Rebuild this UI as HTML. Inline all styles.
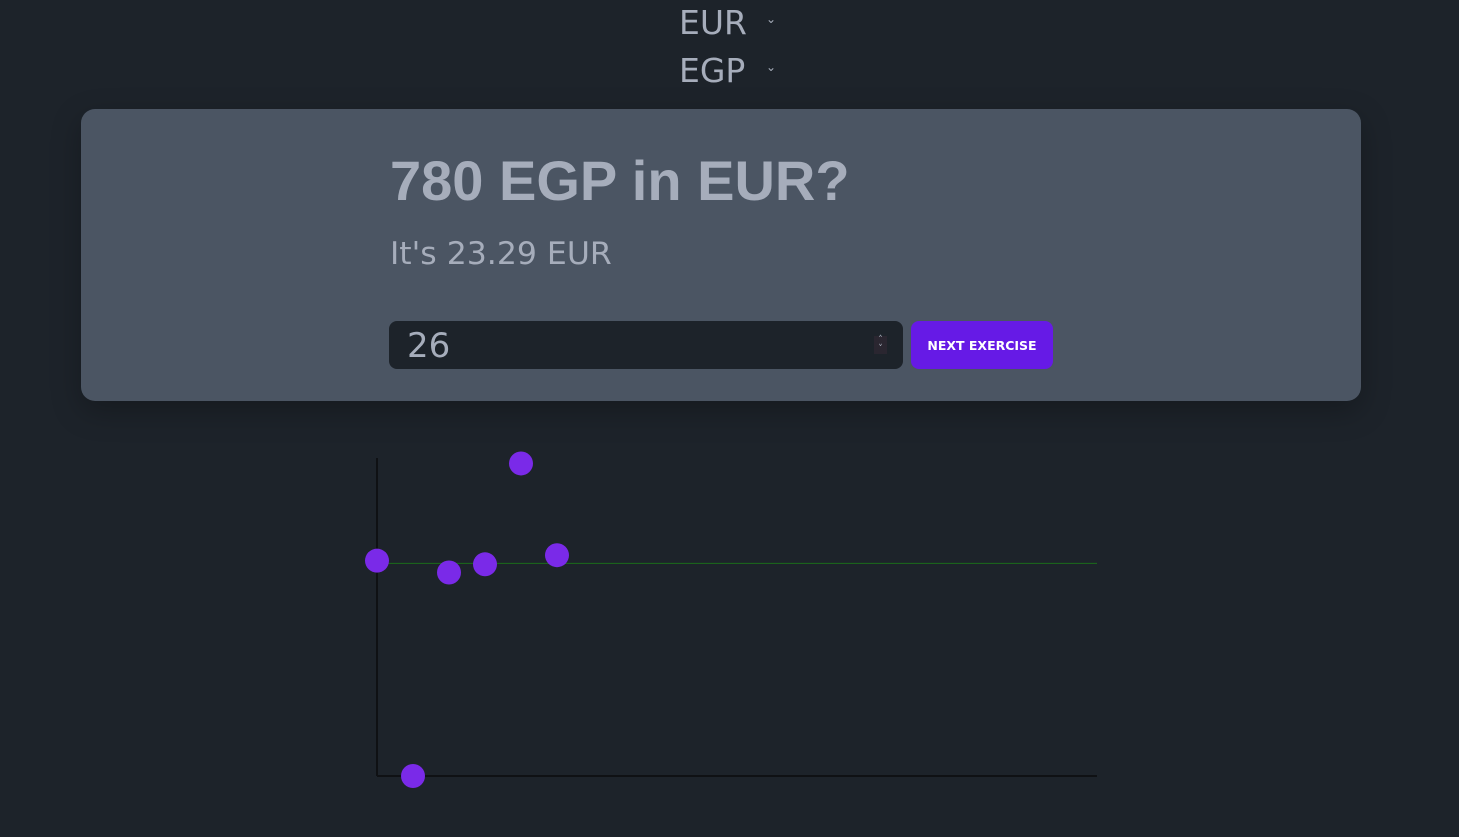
<!DOCTYPE html>
<html><head><meta charset="utf-8"><style>
html,body{margin:0;padding:0;width:1459px;height:837px;background:#1d232a;overflow:hidden;font-family:"DejaVu Sans","Liberation Sans",sans-serif;color:#a6adbb}
.sel{position:absolute;left:679px;font-size:33px;line-height:40px;color:#a6adbb}
.chev{position:absolute;left:766px;font-size:12px;color:#a6adbb}
.card{position:absolute;left:81px;top:109px;width:1280px;height:292px;background:#4b5563;border-radius:14px;box-shadow:0 10px 30px rgba(0,0,0,.25)}
h1{position:absolute;left:309px;top:39px;margin:0;font-family:"Liberation Sans",sans-serif;font-size:56px;font-weight:bold;color:#a6adbb}
.sub{position:absolute;left:309px;top:127px;font-size:31.5px;color:#a6adbb}
.inp{position:absolute;left:308px;top:212px;width:514px;height:48px;background:#1d232a;border-radius:8px}
.inp span{position:absolute;left:18px;top:5px;font-size:34px;color:#a6adbb}
.spin{position:absolute;right:16px;top:15px;width:13px;height:18px;background:#2a2630;color:#a6adbb;font-size:9px;text-align:center;line-height:9px}
.btn{position:absolute;left:830px;top:212px;width:142px;height:48px;background:#661ae6;border-radius:8px;color:#fff;font-size:12.5px;font-weight:bold;text-align:center;line-height:50px}
svg{position:absolute;left:0;top:0}
</style></head><body>
<div class="sel" style="top:3px">EUR</div>
<div class="chev" style="top:12px">⌄</div>
<div class="sel" style="top:51px">EGP</div>
<div class="chev" style="top:60px">⌄</div>
<div class="card">
<h1>780 EGP in EUR?</h1>
<div class="sub">It's 23.29 EUR</div>
<div class="inp"><span>26</span><div class="spin">˄<br>˅</div></div>
<div class="btn">NEXT EXERCISE</div>
</div>
<svg width="1459" height="837" id="chart"></svg>
<script>
const attempts=[0,1,2,3,4,5];
const guesses=[23.7,0,22.4,23.3,34.4,24.3];
const target=[23.4];
const xMax=20, yMax=35;
const L=377,R=1097,T=458,B=776;
const xs=v=>L+v/xMax*(R-L);
const ys=v=>B-v/yMax*(B-T);
const svg=document.getElementById('chart');
const NS='http://www.w3.org/2000/svg';
function mk(t,a){const e=document.createElementNS(NS,t);for(const k in a)e.setAttribute(k,a[k]);svg.appendChild(e);return e;}
let ax=mk('line',{x1:L,y1:T,x2:L,y2:B,stroke:'#0f1114','stroke-width':2});


let bx=mk('line',{x1:L,y1:B,x2:R,y2:B,stroke:'#0f1114','stroke-width':2});


let tl=mk('line',{x1:L,y1:ys(target[0]),x2:R,y2:ys(target[0]),stroke:'#1b6b1b','stroke-width':1});


attempts.forEach((a,i)=>{
const c=mk('circle',{cx:xs(a),cy:ys(guesses[i]),r:12,fill:'#7a2ae8'});


});
</script>
</body></html>
